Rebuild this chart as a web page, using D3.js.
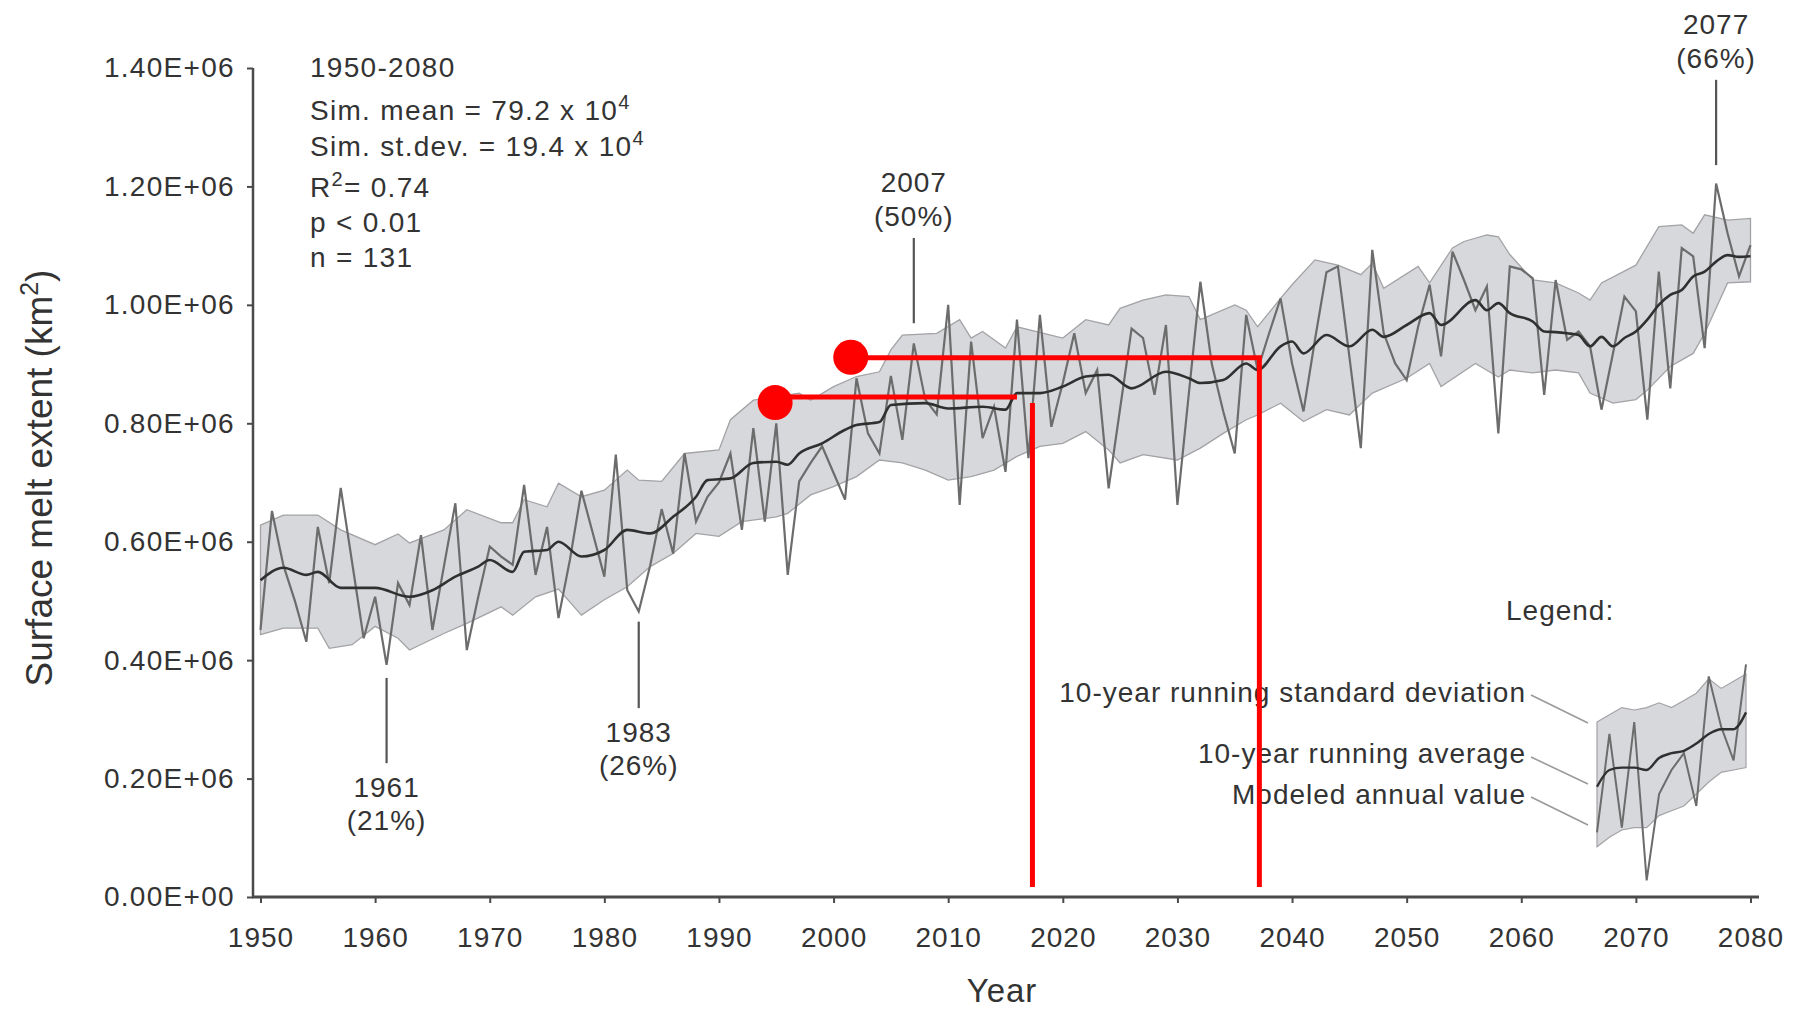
<!DOCTYPE html>
<html><head><meta charset="utf-8">
<script src="https://cdn.jsdelivr.net/npm/d3@7"></script>
<style>
html,body{margin:0;padding:0;background:#fff;}
svg{display:block;}
text{font-family:"Liberation Sans",Arial,Helvetica,sans-serif;fill:#333;}
</style></head><body>
<svg id="chart" width="1806" height="1013"></svg>
<script>
// ---------------- DATA ----------------
const firstYear = 1950, lastYear = 2080;
// Modeled annual surface melt extent (km2), 1950..2080
const annualValues = [
451000,652000,560000,500000,431000,625000,530000,691000,564000,437000,
507000,392000,530000,493000,611000,451000,558000,665000,417000,507000,
592000,575000,561000,696000,544000,625000,471000,570000,686000,614000,
541000,747000,518000,482000,560000,655000,580000,749000,634000,676000,
700000,749000,620000,792000,634000,800000,544000,702000,733000,761000,
716000,671000,876000,783000,749000,880000,772000,935000,840000,815000,
1000000,662000,938000,775000,828000,718000,975000,741000,983000,794000,
868000,952000,851000,890000,690000,825000,960000,944000,848000,966000,
662000,851000,1039000,900000,820000,749000,983000,890000,952000,1011000,
901000,820000,941000,1055000,1065000,913000,758000,1093000,952000,901000,
873000,963000,1034000,913000,1090000,1042000,991000,1031000,783000,1065000,
1060000,1045000,848000,1042000,941000,955000,930000,823000,918000,1014000,
989000,806000,1056000,859000,1096000,1082000,927000,1205000,1121000,1048000,
1101000];

// 10-year running average
const avgYears = [1950,1952,1954,1955,1957,1960,1963,1965,1967,1969,1970,1972,1973,1975,1976,1978,1980,1982,1984,1986,1988,1989,1991,1993,1995,1996,1997,1999,2001,2002,2004,2005,2008,2010,2013,2015,2016,2018,2020,2022,2024,2026,2029,2031,2032,2034,2036,2037,2039,2040,2041,2043,2045,2047,2048,2050,2052,2053,2056,2057,2058,2059,2061,2062,2063,2064,2065,2066,2067,2068,2069,2070,2071,2072,2073,2074,2075,2076,2077,2078,2079,2080];
const avgValues = [535000,556000,544000,549000,522000,522000,507000,518000,541000,558000,569000,549000,583000,586000,600000,575000,586000,620000,614000,642000,676000,704000,707000,733000,735000,730000,749000,766000,789000,797000,802000,831000,834000,825000,828000,823000,851000,851000,862000,879000,882000,859000,887000,876000,868000,873000,901000,890000,930000,938000,918000,949000,930000,958000,946000,966000,986000,966000,1008000,991000,1003000,986000,972000,955000,954000,952000,949000,930000,946000,930000,944000,955000,975000,1000000,1017000,1025000,1048000,1056000,1073000,1084000,1081000,1082000];

// 10-year running standard deviation envelope
const upperYears = [1950,1952,1955,1957,1960,1962,1963,1966,1968,1971,1972,1973,1975,1976,1978,1980,1982,1983,1985,1987,1990,1991,1993,1995,1997,1998,2000,2002,2004,2005,2006,2009,2011,2012,2013,2015,2016,2020,2022,2024,2025,2027,2029,2031,2032,2035,2036,2037,2039,2040,2042,2044,2046,2047,2048,2051,2052,2054,2055,2057,2058,2059,2061,2063,2065,2066,2067,2070,2072,2074,2075,2076,2078,2080];
const upperValues = [628000,645000,645000,620000,595000,613000,598000,620000,654000,632000,632000,671000,659000,699000,676000,687000,721000,704000,702000,749000,755000,806000,839000,845000,851000,839000,862000,879000,887000,924000,949000,952000,975000,944000,955000,927000,963000,944000,975000,966000,994000,1008000,1017000,1014000,975000,1000000,991000,963000,1011000,1034000,1076000,1067000,1051000,1070000,1028000,1065000,1037000,1096000,1107000,1118000,1115000,1085000,1042000,1037000,1020000,1008000,1037000,1067000,1132000,1135000,1121000,1152000,1143000,1146000];
const lowerYears = [1950,1952,1955,1956,1958,1960,1962,1963,1966,1968,1971,1972,1974,1976,1978,1980,1982,1984,1986,1988,1990,1992,1995,1996,1998,2000,2002,2004,2006,2008,2010,2012,2014,2016,2018,2020,2022,2024,2025,2027,2030,2032,2034,2036,2037,2039,2041,2043,2045,2047,2050,2052,2053,2056,2058,2059,2061,2063,2065,2066,2068,2070,2071,2073,2075,2076,2078,2080];
const lowerValues = [443000,454000,454000,420000,426000,457000,437000,417000,445000,462000,490000,476000,507000,520000,476000,502000,524000,558000,580000,614000,609000,634000,642000,648000,679000,693000,710000,738000,733000,721000,704000,710000,721000,744000,761000,766000,786000,755000,733000,747000,738000,758000,783000,806000,814000,834000,803000,823000,814000,851000,876000,901000,862000,901000,878000,890000,885000,890000,885000,851000,834000,840000,856000,896000,918000,952000,1037000,1039000];

// Axes
const xTickValues = [1950,1960,1970,1980,1990,2000,2010,2020,2030,2040,2050,2060,2070,2080];
const yTickValues = [0,200000,400000,600000,800000,1000000,1200000,1400000];
const yTickLabels = ["0.00E+00","0.20E+06","0.40E+06","0.60E+06","0.80E+06","1.00E+06","1.20E+06","1.40E+06"];

// Annotated years
const annotYears = [1961,1983,2007,2077];
const annotPcts = ["(21%)","(26%)","(50%)","(66%)"];
const annotLineTop = [370000,465000,1113000,1380000];
const annotLineBottom = [226000,319000,969000,1236000];
const annotBelow = [true,true,false,false];

// Legend inset sample (relative units 0-100)
const legendUpper = [70,73,76,75,76,78,76,79,82,88,84,87,90];
const legendLower = [18,22,25,26,26,31,33,35,40,45,49,50,51];
const legendAvg = [43,50,51,51,50,55,57,58,61,65,67,67,74];
const legendAnnual = [24,65,26,70,4,40,50,57,35,89,68,54,94];
const legendLabels = ["10-year running standard deviation","10-year running average","Modeled annual value"];

// Red overlay markers (year, value)
const redDotYears = [1994.9, 2001.5];
const redDotValues = [835000, 911500];
const redSegments = [
  {x1:1994.9, v1:844400, x2:2016.0, v2:844400},
  {x1:2017.35, v1:834300, x2:2017.35, v2:16900}
];
const redCorner = {xStart:2001.5, xCorner:2037.15, vTop:910800, vBottom:16900};

// ---------------- CHART ----------------
const svg = d3.select("#chart");
const x = d3.scaleLinear().domain([firstYear, lastYear]).range([260.5, 1750.5]);
const y = d3.scaleLinear().domain([0, 1400000]).range([897, 68]);
const years = d3.range(firstYear, lastYear + 1);

const TXT = 28;
const LS = "1.3px";

// Band polygon
const bandPts = upperYears.map((yr,i)=>[x(yr), y(upperValues[i])])
  .concat(lowerYears.map((yr,i)=>[x(yr), y(lowerValues[i])]).reverse());
svg.append("path")
  .attr("d", d3.line()(bandPts) + "Z")
  .attr("fill", "#d7d8dc")
  .attr("stroke", "#a3a3a6")
  .attr("stroke-width", 1.3);

// Annual line
svg.append("path")
  .datum(annualValues)
  .attr("d", d3.line().x((d,i)=>x(years[i])).y(d=>y(d)))
  .attr("fill","none").attr("stroke","#6c6c6c").attr("stroke-width",2.2)
  .attr("stroke-linejoin","miter");

// Running average
svg.append("path")
  .datum(avgValues)
  .attr("d", d3.line().x((d,i)=>x(avgYears[i])).y(d=>y(d)).curve(d3.curveMonotoneX))
  .attr("fill","none").attr("stroke","#303030").attr("stroke-width",2.6);

// Axes
const axisColor = "#4a4a4a";
const yAxis = d3.axisLeft(y).tickValues(yTickValues).tickSize(6).tickPadding(12)
  .tickFormat((d,i)=>yTickLabels[i]);
const gy = svg.append("g").attr("transform","translate(253,0)").call(yAxis);
gy.select(".domain").remove();
gy.selectAll(".tick line").attr("stroke",axisColor).attr("stroke-width",2);
gy.selectAll(".tick text").attr("font-size",TXT).style("letter-spacing",LS)
  .attr("font-family",null).attr("fill","#333");

const xAxis = d3.axisBottom(x).tickValues(xTickValues).tickSize(6).tickPadding(24)
  .tickFormat(d3.format("d"));
const gx = svg.append("g").attr("transform","translate(0,897)").call(xAxis);
gx.select(".domain").remove();
gx.selectAll(".tick line").attr("stroke",axisColor).attr("stroke-width",2);
gx.selectAll(".tick text").attr("font-size",TXT).style("letter-spacing","1px")
  .attr("font-family",null).attr("fill","#333");

svg.append("line").attr("x1",253).attr("x2",253).attr("y1",y(1400000)).attr("y2",y(0))
  .attr("stroke",axisColor).attr("stroke-width",2.5);
svg.append("line").attr("x1",252).attr("x2",1759).attr("y1",y(0)).attr("y2",y(0))
  .attr("stroke",axisColor).attr("stroke-width",2.8);

// Axis titles
const yl = svg.append("text").attr("transform","translate(52,478) rotate(-90)")
  .attr("text-anchor","middle").attr("font-size",37);
yl.append("tspan").text("Surface melt extent (km");
yl.append("tspan").attr("font-size",25).attr("dy",-14).text("2");
yl.append("tspan").attr("dy",14).text(")");

svg.append("text").attr("x",1002).attr("y",1002).attr("text-anchor","middle")
  .attr("font-size",33).style("letter-spacing","1px").text("Year");

// Stats block
const stats = svg.append("g").attr("font-size",TXT).style("letter-spacing",LS);
stats.append("text").attr("x",310).attr("y",77).text("1950-2080");
function supLine(yy, pre, sup, post){
  const t = stats.append("text").attr("x",310).attr("y",yy);
  t.append("tspan").text(pre);
  t.append("tspan").attr("font-size",20).attr("dy",-11).text(sup);
  if (post) t.append("tspan").attr("dy",11).text(post);
}
supLine(120, "Sim. mean = 79.2 x 10", "4");
supLine(156, "Sim. st.dev. = 19.4 x 10", "4");
supLine(197, "R", "2", "= 0.74");
stats.append("text").attr("x",310).attr("y",232).text("p < 0.01");
stats.append("text").attr("x",310).attr("y",267).text("n = 131");

// Annotations
annotYears.forEach((yr,i)=>{
  const xx = x(yr), yt = y(annotLineTop[i]), yb = y(annotLineBottom[i]);
  svg.append("line").attr("x1",xx).attr("x2",xx).attr("y1",yt).attr("y2",yb)
    .attr("stroke","#555").attr("stroke-width",2.2);
  const g = svg.append("g").attr("font-size",TXT).style("letter-spacing","1px").attr("text-anchor","middle");
  if (annotBelow[i]) {
    g.append("text").attr("x",xx).attr("y",yb+34).text(String(yr));
    g.append("text").attr("x",xx).attr("y",yb+67).text(annotPcts[i]);
  } else {
    g.append("text").attr("x",xx).attr("y",yt-46).text(String(yr));
    g.append("text").attr("x",xx).attr("y",yt-12).text(annotPcts[i]);
  }
});

// Legend
const lg = svg.append("g");
lg.append("text").attr("x",1506).attr("y",620).attr("font-size",TXT).style("letter-spacing","1px").text("Legend:");
const lx = d3.scaleLinear().domain([0, legendAnnual.length-1]).range([1597,1746]);
const ly = d3.scaleLinear().domain([0,100]).range([890,650]);
lg.append("path")
  .attr("d", d3.area().x((d,i)=>lx(i)).y0((d,i)=>ly(legendLower[i])).y1(d=>ly(d))(legendUpper))
  .attr("fill","#d7d8dc").attr("stroke","#a3a3a6").attr("stroke-width",1.2);
lg.append("path").attr("d", d3.line().x((d,i)=>lx(i)).y(d=>ly(d))(legendAnnual))
  .attr("fill","none").attr("stroke","#6c6c6c").attr("stroke-width",2);
lg.append("path").attr("d", d3.line().x((d,i)=>lx(i)).y(d=>ly(d)).curve(d3.curveMonotoneX)(legendAvg))
  .attr("fill","none").attr("stroke","#303030").attr("stroke-width",2.4);
const legBase = [702,763,804];
const legLead = [[695,723],[757,784],[797,825]];
legendLabels.forEach((lab,i)=>{
  lg.append("text").attr("x",1526).attr("y",legBase[i]).attr("text-anchor","end")
    .attr("font-size",TXT).style("letter-spacing","1px").text(lab);
  lg.append("line").attr("x1",1531).attr("y1",legLead[i][0]).attr("x2",1588).attr("y2",legLead[i][1])
    .attr("stroke","#9a9a9a").attr("stroke-width",1.6);
});

// Red overlay
const red = "#ff0000";
redSegments.forEach(s=>{
  svg.append("line").attr("x1",x(s.x1)).attr("y1",y(s.v1)).attr("x2",x(s.x2)).attr("y2",y(s.v2))
    .attr("stroke",red).attr("stroke-width",5);
});
svg.append("path")
  .attr("d", `M${x(redCorner.xStart)},${y(redCorner.vTop)}H${x(redCorner.xCorner)}V${y(redCorner.vBottom)}`)
  .attr("fill","none").attr("stroke",red).attr("stroke-width",5).attr("stroke-linejoin","miter");
redDotYears.forEach((yr,i)=>{
  svg.append("circle").attr("cx",x(yr)).attr("cy",y(redDotValues[i])).attr("r",17.5).attr("fill",red);
});
</script>
</body></html>
